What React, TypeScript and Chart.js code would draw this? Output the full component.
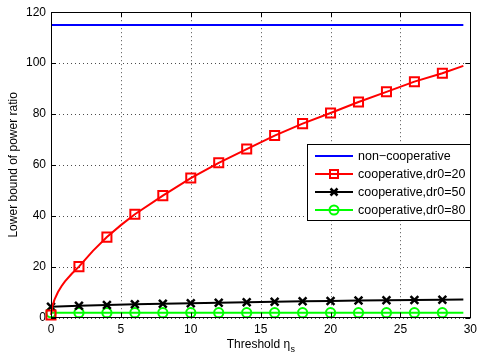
import React, { useEffect, useRef } from "react";
import { Chart, registerables } from "chart.js";

Chart.register(...registerables);

// ---- data ----
const markerXs = [0, 2, 4, 6, 8, 10, 12, 14, 16, 18, 20, 22, 24, 26, 28];

const blueX = [0, 29.5];
const blueY = [115, 115];

const redX = [0, 0.1, 0.25, 0.5, 0.75, 1, 1.5, 2, 3, 4, 5, 6, 8, 10, 12, 14, 16, 18, 20, 22, 24, 26, 28, 29.5];
const redY = [1, 4.5, 7, 10, 12.3, 14.2, 17.3, 20, 26.2, 31.6, 36.3, 40.6, 47.9, 54.8, 60.8, 66.2, 71.5, 76.2, 80.4, 84.7, 88.7, 92.7, 96.0, 98.9];

const blackX = [0, 2, 4, 6, 8, 10, 12, 14, 16, 18, 20, 22, 24, 26, 28, 29.5];
const blackY = [4.2, 4.6, 4.9, 5.2, 5.4, 5.6, 5.8, 6.0, 6.2, 6.4, 6.5, 6.7, 6.8, 6.9, 7.0, 7.1];

const greenX = [0, 2, 4, 6, 8, 10, 12, 14, 16, 18, 20, 22, 24, 26, 28, 29.5];
const greenY = [1.9, 1.9, 1.9, 1.9, 1.9, 1.9, 1.9, 1.9, 1.9, 1.9, 1.9, 1.9, 1.9, 1.9, 1.9, 1.9];

const seriesLabels = ["non\u2212cooperative", "cooperative,dr0=20", "cooperative,dr0=50", "cooperative,dr0=80"];
const xTicks = [0, 5, 10, 15, 20, 25, 30];
const yTicks = [0, 20, 40, 60, 80, 100, 120];
const xTitle = "Threshold \u03b7";
const xTitleSub = "s";
const yTitle = "Lower bound of power ratio";

const FONT = "'Liberation Sans', Arial, Helvetica, sans-serif";

const pts = (xs: number[], ys: number[]) => xs.map((x, i) => ({ x, y: ys[i] }));
const markerRadius = (r: number) => (ctx: any) => {
  const p = ctx.raw;
  return p && markerXs.includes(p.x) ? r : 0;
};

const dottedGrid = {
  id: "dottedGrid",
  beforeDatasetsDraw(chart: any) {
    const { ctx, chartArea: a, scales } = chart;
    ctx.save();
    ctx.strokeStyle = "rgba(0,0,0,0.7)";
    ctx.lineWidth = 1;
    ctx.setLineDash([1, 3]);
    ctx.beginPath();
    for (const v of xTicks) {
      const px = Math.round(scales.x.getPixelForValue(v)) + 0.5;
      ctx.moveTo(px, a.top);
      ctx.lineTo(px, a.bottom);
    }
    for (const v of yTicks) {
      const py = Math.round(scales.y.getPixelForValue(v)) + 0.5;
      ctx.moveTo(a.left, py);
      ctx.lineTo(a.right, py);
    }
    ctx.stroke();
    ctx.restore();
  },
};

const frame = {
  id: "frame",
  afterDraw(chart: any) {
    const { ctx, chartArea: a, scales } = chart;
    ctx.save();
    // box
    ctx.strokeStyle = "#000";
    ctx.lineWidth = 1;
    ctx.strokeRect(Math.round(a.left) + 0.5, Math.round(a.top) + 0.5, Math.round(a.right - a.left), Math.round(a.bottom - a.top));
    // inside ticks
    const tl = 5;
    ctx.beginPath();
    for (const v of xTicks) {
      const px = Math.round(scales.x.getPixelForValue(v)) + 0.5;
      ctx.moveTo(px, a.bottom); ctx.lineTo(px, a.bottom - tl);
      ctx.moveTo(px, a.top); ctx.lineTo(px, a.top + tl);
    }
    for (const v of yTicks) {
      const py = Math.round(scales.y.getPixelForValue(v)) + 0.5;
      ctx.moveTo(a.left, py); ctx.lineTo(a.left + tl, py);
      ctx.moveTo(a.right, py); ctx.lineTo(a.right - tl, py);
    }
    ctx.stroke();

    // titles
    ctx.fillStyle = "#000";
    ctx.font = `12px ${FONT}`;
    ctx.textBaseline = "alphabetic";
    const w1 = ctx.measureText(xTitle).width;
    ctx.font = `9px ${FONT}`;
    const w2 = ctx.measureText(xTitleSub).width;
    const cx = (a.left + a.right) / 2;
    const startX = cx - (w1 + w2) / 2;
    ctx.font = `12px ${FONT}`;
    ctx.textAlign = "left";
    ctx.fillText(xTitle, startX, 348);
    ctx.font = `9px ${FONT}`;
    ctx.fillText(xTitleSub, startX + w1 + 0.5, 352);

    ctx.save();
    ctx.translate(17, (a.top + a.bottom) / 2);
    ctx.rotate(-Math.PI / 2);
    ctx.font = `12px ${FONT}`;
    ctx.textAlign = "center";
    ctx.fillText(yTitle, 0, 0);
    ctx.restore();

    // legend
    const lx = 307.5, ly = 144.5, lw = 163, lh = 76;
    ctx.fillStyle = "#fff";
    ctx.fillRect(lx, ly, lw, lh);
    ctx.strokeStyle = "#000";
    ctx.lineWidth = 1;
    ctx.strokeRect(lx, ly, lw, lh);
    const colors = ["#0000ff", "#ff0000", "#000000", "#00ff00"];
    const rows = [156, 174, 192, 210];
    rows.forEach((y, i) => {
      ctx.strokeStyle = colors[i];
      ctx.lineWidth = 2;
      ctx.beginPath();
      ctx.moveTo(315, y);
      ctx.lineTo(353, y);
      ctx.stroke();
      const mx = 334;
      if (i === 1) {
        ctx.strokeRect(mx - 4, y - 4, 8, 8);
      } else if (i === 2) {
        ctx.lineWidth = 2.5;
        ctx.beginPath();
        ctx.moveTo(mx - 3.5, y - 3.5); ctx.lineTo(mx + 3.5, y + 3.5);
        ctx.moveTo(mx + 3.5, y - 3.5); ctx.lineTo(mx - 3.5, y + 3.5);
        ctx.stroke();
      } else if (i === 3) {
        ctx.beginPath();
        ctx.arc(mx, y, 4.5, 0, Math.PI * 2);
        ctx.stroke();
      }
      ctx.fillStyle = "#000";
      ctx.font = `12.5px ${FONT}`;
      ctx.textAlign = "left";
      ctx.textBaseline = "middle";
      ctx.fillText(seriesLabels[i], 358, y + 0.5);
    });
    ctx.restore();
  },
};

export default function App() {
  const ref = useRef<HTMLCanvasElement>(null);
  useEffect(() => {
    if (!ref.current) return;
    const chart = new Chart(ref.current, {
      type: "line",
      data: {
        datasets: [
          {
            label: seriesLabels[0],
            data: pts(blueX, blueY),
            borderColor: "#0000ff",
            borderWidth: 2,
            pointRadius: 0,
            clip: false as any,
          },
          {
            label: seriesLabels[1],
            data: pts(redX, redY),
            borderColor: "#ff0000",
            backgroundColor: "rgba(0,0,0,0)",
            borderWidth: 2,
            pointStyle: "rect",
            pointRadius: markerRadius(6.4),
            pointBorderWidth: 2,
            pointBorderColor: "#ff0000",
            pointBackgroundColor: "rgba(0,0,0,0)",
            clip: false as any,
          },
          {
            label: seriesLabels[2],
            data: pts(blackX, blackY),
            borderColor: "#000000",
            borderWidth: 2,
            pointStyle: "crossRot",
            pointRadius: markerRadius(5.5),
            pointBorderWidth: 2.5,
            pointBorderColor: "#000000",
            clip: false as any,
          },
          {
            label: seriesLabels[3],
            data: pts(greenX, greenY),
            borderColor: "#00ff00",
            borderWidth: 2,
            pointStyle: "circle",
            pointRadius: markerRadius(4.6),
            pointBorderWidth: 2,
            pointBorderColor: "#00ff00",
            pointBackgroundColor: "rgba(0,0,0,0)",
            clip: false as any,
          },
        ],
      },
      options: {
        animation: false,
        responsive: false,
        events: [],
        layout: { padding: { left: 0, right: 6, top: 8, bottom: 0 } },
        plugins: { legend: { display: false }, tooltip: { enabled: false } },
        scales: {
          x: {
            type: "linear",
            min: 0,
            max: 30,
            afterFit: (s: any) => { s.height = 42.5; },
            afterBuildTicks: (s: any) => { s.ticks = xTicks.map((v) => ({ value: v })); },
            ticks: { color: "#000", font: { family: FONT, size: 12 }, padding: 5, maxRotation: 0 },
            grid: { display: false, drawTicks: false },
            border: { display: false },
          },
          y: {
            type: "linear",
            min: 0,
            max: 120,
            afterFit: (s: any) => { s.width = 51; },
            afterBuildTicks: (s: any) => { s.ticks = yTicks.map((v) => ({ value: v })); },
            ticks: { color: "#000", font: { family: FONT, size: 12 }, padding: 5 },
            grid: { display: false, drawTicks: false },
            border: { display: false },
          },
        },
      },
      plugins: [dottedGrid, frame],
    });
    return () => chart.destroy();
  }, []);
  return (
    <div style={{ position: "absolute", left: 0, top: 0, width: 482, height: 360, background: "#fff" }}>
      <canvas ref={ref} width={482} height={360} style={{ width: 482, height: 360 }} />
    </div>
  );
}
